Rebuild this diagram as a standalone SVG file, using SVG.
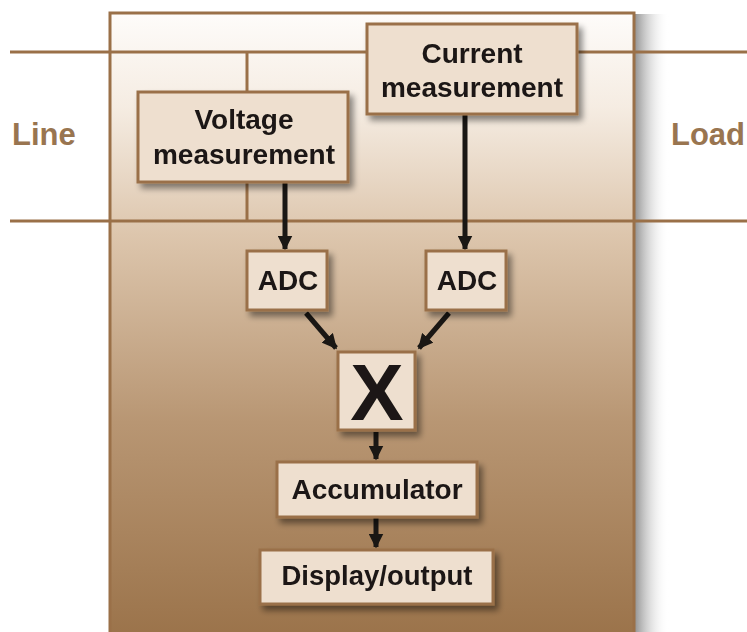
<svg xmlns="http://www.w3.org/2000/svg" width="747" height="632" viewBox="0 0 747 632">
<defs>
<linearGradient id="bg" x1="0" y1="0" x2="0" y2="1">
<stop offset="0" stop-color="#fefcfa"/>
<stop offset="0.15" stop-color="#f5ece2"/>
<stop offset="0.35" stop-color="#ddc6ad"/>
<stop offset="0.65" stop-color="#b89673"/>
<stop offset="1" stop-color="#9a7249"/>
</linearGradient>
<linearGradient id="sh" x1="0" y1="0" x2="1" y2="0">
<stop offset="0" stop-color="#7a7a7a" stop-opacity="0.8"/>
<stop offset="1" stop-color="#ffffff" stop-opacity="0"/>
</linearGradient>
<filter id="ds" x="-20%" y="-20%" width="140%" height="150%">
<feGaussianBlur in="SourceAlpha" stdDeviation="3"/>
<feOffset dx="4" dy="5"/>
<feComponentTransfer><feFuncA type="linear" slope="0.45"/></feComponentTransfer>
<feMerge><feMergeNode/><feMergeNode in="SourceGraphic"/></feMerge>
</filter>
<marker id="ah" viewBox="0 0 10 10" refX="9" refY="5" markerWidth="3" markerHeight="3" orient="auto" markerUnits="strokeWidth">
<path d="M0,0 L10,5 L0,10 z" fill="#1a1714"/>
</marker>
</defs>
<style>
.box{fill:#eedfcf;stroke:#9a7048;stroke-width:3}
.t{font-family:"Liberation Sans",Arial,sans-serif;font-weight:bold;fill:#1a1714;text-anchor:middle}
.wire{stroke:#9a7048;stroke-width:3;fill:none}
.lbl{font-family:"Liberation Sans",Arial,sans-serif;font-weight:bold;fill:#997550;font-size:31px}
.arr{stroke:#1a1714;stroke-width:5;fill:none;marker-end:url(#ah)}
</style>
<rect width="747" height="632" fill="#ffffff"/>
<rect x="635" y="14" width="34" height="618" fill="url(#sh)"/>
<rect id="enclosure" x="110" y="13" width="524" height="630" fill="url(#bg)" stroke="#9a7048" stroke-width="3"/>
<g id="wires">
<line class="wire" x1="10" y1="52" x2="747" y2="52"/>
<line class="wire" x1="10" y1="221" x2="747" y2="221"/>
<line class="wire" x1="247" y1="52" x2="247" y2="221"/>
</g>
<text class="lbl" x="12" y="145">Line</text>
<text class="lbl" x="671" y="145">Load</text>
<g id="connectors">
<line class="arr" x1="285" y1="183" x2="285" y2="249"/>
<line class="arr" x1="465" y1="115" x2="465" y2="249"/>
<line class="arr" x1="306" y1="313" x2="336" y2="348"/>
<line class="arr" x1="449" y1="313" x2="419" y2="348"/>
<line class="arr" x1="376" y1="432" x2="376" y2="459"/>
<line class="arr" x1="376" y1="518" x2="376" y2="547"/>
</g>
<g id="voltage" filter="url(#ds)">
<rect class="box" x="138" y="92" width="210" height="90"/>
<text class="t" x="244" y="129" font-size="28">Voltage</text>
<text class="t" x="244" y="164" font-size="28">measurement</text>
</g>
<g id="current" filter="url(#ds)">
<rect class="box" x="367" y="24" width="210" height="90"/>
<text class="t" x="472" y="63" font-size="28">Current</text>
<text class="t" x="472" y="97" font-size="28">measurement</text>
</g>
<g id="adc1" filter="url(#ds)">
<rect class="box" x="247" y="251" width="80" height="59"/>
<text class="t" x="288" y="290" font-size="28">ADC</text>
</g>
<g id="adc2" filter="url(#ds)">
<rect class="box" x="426" y="251" width="80" height="59"/>
<text class="t" x="467" y="290" font-size="28">ADC</text>
</g>
<g id="mult" filter="url(#ds)">
<rect class="box" x="338" y="352" width="77" height="78"/>
<text class="t" x="377" y="420" font-size="80">X</text>
</g>
<g id="accumulator" filter="url(#ds)">
<rect class="box" x="277" y="462" width="200" height="55"/>
<text class="t" x="377" y="499" font-size="28">Accumulator</text>
</g>
<g id="display" filter="url(#ds)">
<rect class="box" x="260" y="550" width="233" height="54"/>
<text class="t" x="377" y="585" font-size="27.5">Display/output</text>
</g>
</svg>
